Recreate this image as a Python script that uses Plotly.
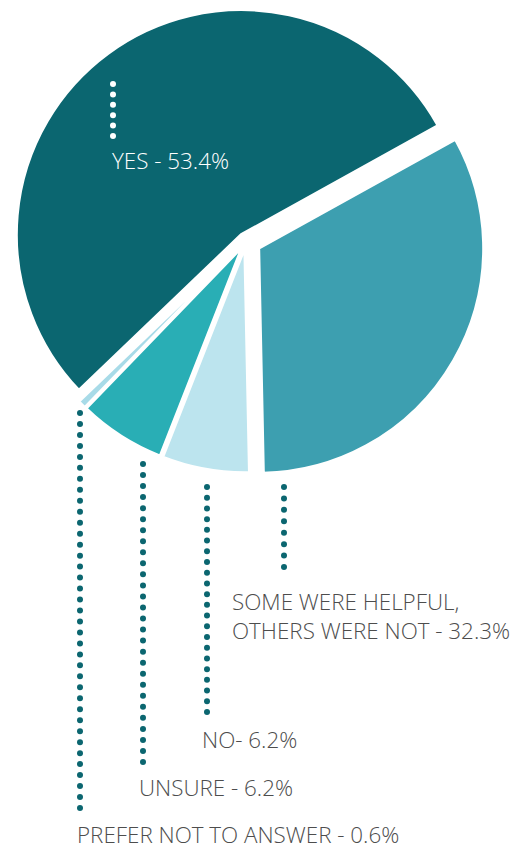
import numpy as np
import plotly.graph_objects as go

# Survey responses (percent)
labels = ["SOME WERE HELPFUL, OTHERS WERE NOT", "NO", "UNSURE", "PREFER NOT TO ANSWER", "YES"]
values = [32.3, 6.2, 6.2, 0.6, 53.4]
colors = ["#3d9fb0", "#bce4ee", "#29aeb5", "#a8dbe8", "#0b6670"]
pulls = [0.065, 0.03, 0.03, 0.03, 0.035]

label_texts = [
    "SOME WERE HELPFUL,<br>OTHERS WERE NOT - 32.3%",
    "NO- 6.2%",
    "UNSURE - 6.2%",
    "PREFER NOT TO ANSWER - 0.6%",
    "YES - 53.4%",
]

W, H = 511, 846
TEAL = "#0b6670"
GREY = "#4d4d4d"

fig = go.Figure()

# Pie with a square domain
R = 225
cx, cy = 246, 241
maxpull = max(pulls)
half = R * (1 + maxpull)
fig.add_trace(go.Pie(
    labels=labels, values=values, sort=False, direction="clockwise",
    rotation=61, pull=pulls, textinfo="none", hoverinfo="label+percent",
    marker=dict(colors=colors, line=dict(color="white", width=3)),
    domain=dict(x=[(cx - half) / W, (cx + half) / W],
                y=[1 - (cy + half) / H, 1 - (cy - half) / H]),
    showlegend=False,
))

# Dotted leader lines: (x, top, bottom, colour), drawn as small circles above the pie
leaders = [
    (284, 487, 567, TEAL),
    (207, 487, 712, TEAL),
    (143, 464, 762, TEAL),
    (80, 413, 808, TEAL),
    (113, 84, 136, "white"),
]
dot_r = 3
for x, y0, y1, c in leaders:
    n = int(round((y1 - y0) / 10.9)) + 1
    for y in np.linspace(y0, y1, n):
        fig.add_shape(
            type="circle", xref="x", yref="y", layer="above",
            x0=x - dot_r, x1=x + dot_r, y0=y - dot_r, y1=y + dot_r,
            fillcolor=c, line=dict(width=0),
        )

# Category labels: (x left, y middle, colour)
label_pos = [
    (230, 616, GREY),
    (200, 739, GREY),
    (137, 787, GREY),
    (75, 834, GREY),
    (110, 160, "white"),
]
for txt, (x, y, c) in zip(label_texts, label_pos):
    fig.add_annotation(
        x=x, y=y, xref="x", yref="y", text=txt, showarrow=False,
        xanchor="left", yanchor="middle", align="left",
        font=dict(family="Open Sans", size=22.4, color=c, weight=300),
    )

fig.update_layout(
    width=W, height=H, margin=dict(l=0, r=0, t=0, b=0),
    paper_bgcolor="white", plot_bgcolor="rgba(0,0,0,0)",
    xaxis=dict(range=[0, W], visible=False, fixedrange=True, domain=[0, 1]),
    yaxis=dict(range=[H, 0], visible=False, fixedrange=True, domain=[0, 1]),
)

fig.write_html("out.html")
